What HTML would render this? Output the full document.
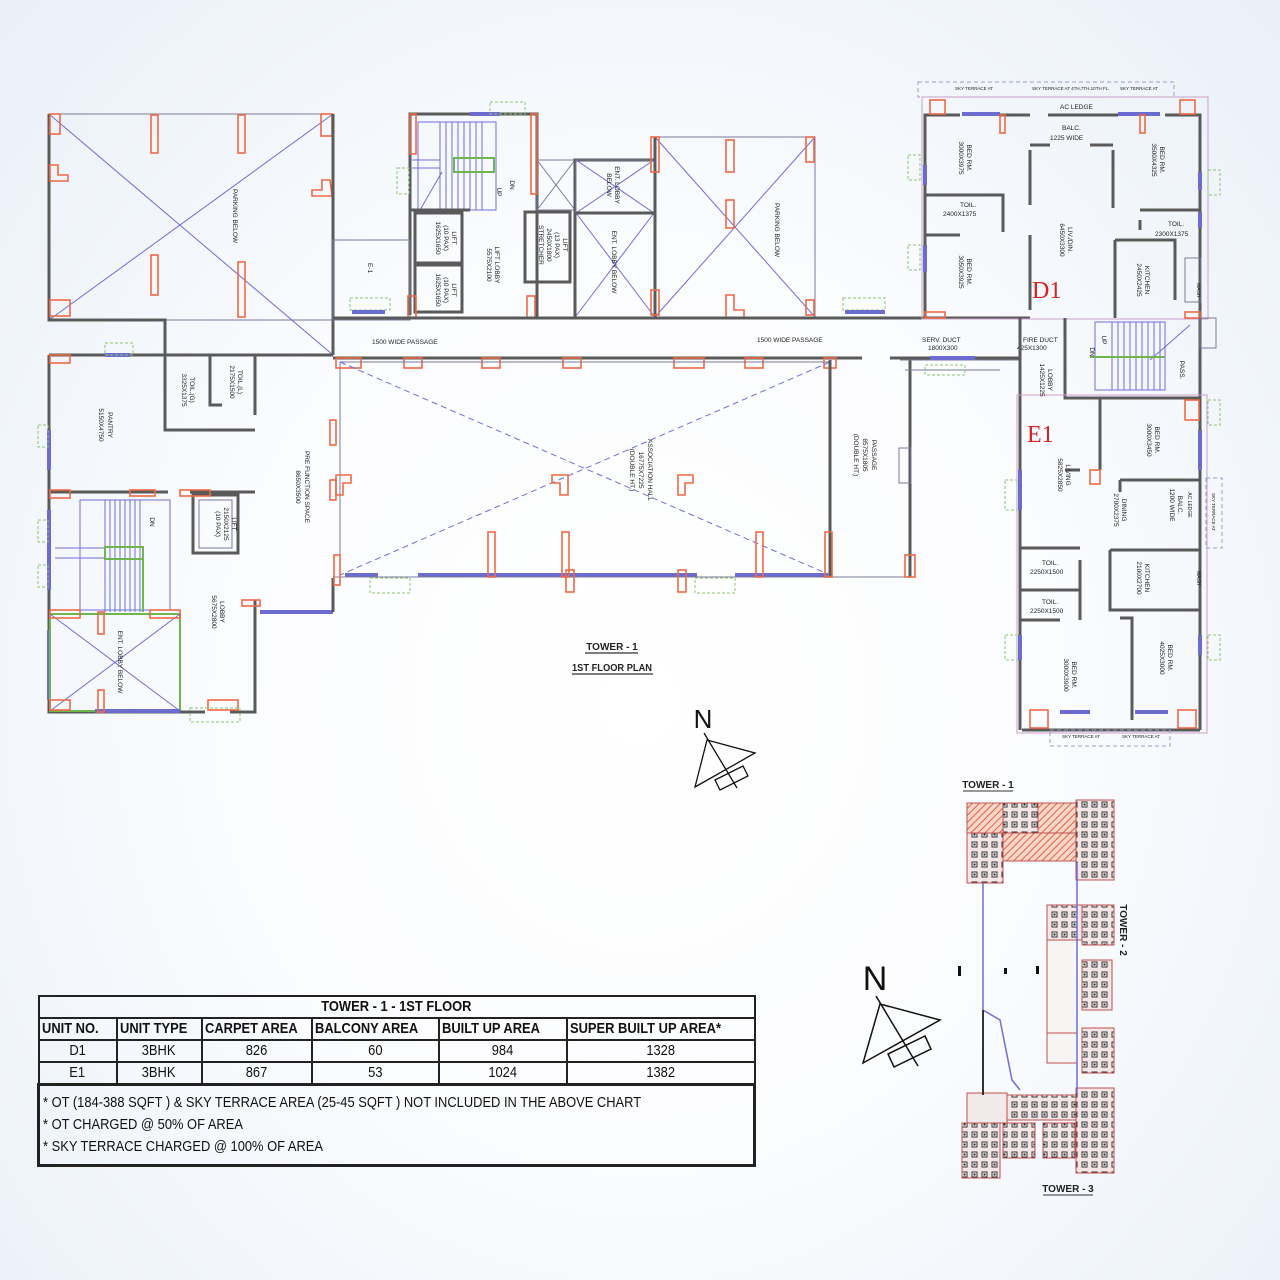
<!DOCTYPE html>
<html><head><meta charset="utf-8"><style>
html,body{margin:0;padding:0;}
body{width:1280px;height:1280px;overflow:hidden;background:radial-gradient(ellipse at 50% 55%,#ffffff 0%,#fbfcfe 45%,#e9f0f8 100%);font-family:"Liberation Sans",sans-serif;}
svg{position:absolute;left:0;top:0;}
.w{stroke:#5a5a5a;stroke-width:3;fill:none}
.t{stroke:#7a7a9a;stroke-width:1;fill:none}
.b{stroke:#6e6ed8;stroke-width:1;fill:none}
.bd{stroke:#6e6ed8;stroke-width:1;fill:none;stroke-dasharray:6 4}
.c{stroke:#ee6a45;stroke-width:1.6;fill:none}
.win{stroke:#6b6bd0;stroke-width:4;fill:none}
.g{stroke:#8cc56e;stroke-width:1;fill:none;stroke-dasharray:3 2}
.p{stroke:#c9a0c9;stroke-width:1;fill:none}
.lbl{font-family:"Liberation Sans",sans-serif;font-size:6.5px;fill:#222}
table{position:absolute;left:37px;top:995px;border-collapse:collapse;table-layout:fixed;width:716px;font-family:"Liberation Sans",sans-serif;font-size:15px;color:#111}
td{border:2px solid #222;padding:0;text-align:center;height:20px;line-height:20px;white-space:nowrap;overflow:hidden}
.hd td{font-weight:bold}
.s{display:inline-block;transform:scaleX(0.86);transform-origin:center}
.sl{display:inline-block;transform:scaleX(0.86);transform-origin:left;margin-left:2px}
</style></head><body>
<svg width="1280" height="1280" viewBox="0 0 1280 1280">
<rect x="49" y="114" width="284" height="206" class="t"/>
<line x1="49" y1="114" x2="333" y2="355" class="b"/>
<line x1="333" y1="114" x2="49" y2="320" class="b"/>
<path d="M49 114 V320 H165 V355" class="w" stroke-width="2"/>
<g class="c">
<rect x="50" y="114" width="10" height="20"/><rect x="151" y="115" width="7" height="38"/><rect x="238" y="115" width="7" height="38"/><rect x="321" y="114" width="11" height="22"/>
<path d="M50 165 h8 v10 h10 v6 h-18z"/><path d="M330 180 h-8 v10 h-10 v6 h20z"/>
<rect x="151" y="255" width="7" height="40"/><rect x="238" y="262" width="7" height="55"/><rect x="50" y="300" width="20" height="16"/>
</g>
<text class="lbl" transform="translate(233,216) rotate(90)" text-anchor="middle">PARKING BELOW</text>
<line x1="333" y1="114" x2="333" y2="355" class="w" stroke-width="2"/>
<path d="M49 355 H333" class="w"/>
<path d="M49 355 V712 H180" class="w"/>
<line x1="49" y1="430" x2="49" y2="470" class="win"/>
<line x1="49" y1="510" x2="49" y2="590" class="win"/>
<line x1="49" y1="630" x2="49" y2="700" class="win"/>
<line x1="105" y1="355" x2="130" y2="355" class="win"/>
<path d="M165 355 V430 H255 M210 355 V405 H222 M255 355 V415" class="w" stroke-width="2.5"/>
<text class="lbl" transform="translate(108,425) rotate(90)" text-anchor="middle">PANTRY</text>
<text class="lbl" transform="translate(99,425) rotate(90)" text-anchor="middle">5150X4750</text>
<text class="lbl" transform="translate(190,390) rotate(90)" text-anchor="middle">TOIL.(G)</text>
<text class="lbl" transform="translate(182,390) rotate(90)" text-anchor="middle">3325X1375</text>
<text class="lbl" transform="translate(238,382) rotate(90)" text-anchor="middle">TOIL.(L)</text>
<text class="lbl" transform="translate(230,382) rotate(90)" text-anchor="middle">2175X1500</text>
<path d="M49 492 H168 M190 492 H255" class="w" stroke-width="2.5"/>
<g class="b"><rect x="80" y="500" width="90" height="110"/>
<line x1="105" y1="500" x2="105" y2="612"/><line x1="110" y1="500" x2="110" y2="612"/><line x1="115" y1="500" x2="115" y2="612"/><line x1="120" y1="500" x2="120" y2="612"/><line x1="125" y1="500" x2="125" y2="612"/><line x1="130" y1="500" x2="130" y2="612"/><line x1="135" y1="500" x2="135" y2="612"/><line x1="140" y1="500" x2="140" y2="612"/>
<line x1="55" y1="548" x2="105" y2="548"/><line x1="55" y1="558" x2="105" y2="558"/></g>
<rect x="105" y="547" width="38" height="12" fill="none" stroke="#6fb64e" stroke-width="2"/>
<line x1="143" y1="547" x2="143" y2="612" stroke="#6fb64e" stroke-width="2"/>
<text class="lbl" transform="translate(150,522) rotate(90)" text-anchor="middle">DN</text>
<rect x="193" y="495" width="45" height="58" class="w" stroke-width="2.5"/>
<rect x="199" y="500" width="33" height="48" class="t"/>
<text class="lbl" transform="translate(232,524) rotate(90)" text-anchor="middle">LIFT</text>
<text class="lbl" transform="translate(224,524) rotate(90)" text-anchor="middle">2150X2125</text>
<text class="lbl" transform="translate(216,524) rotate(90)" text-anchor="middle">(10 PAX)</text>
<rect x="50" y="614" width="130" height="97" fill="none" stroke="#6fb64e" stroke-width="2"/>
<line x1="50" y1="614" x2="180" y2="711" class="b"/><line x1="180" y1="614" x2="50" y2="711" class="b"/>
<text class="lbl" transform="translate(118,662) rotate(90)" text-anchor="middle">ENT. LOBBY BELOW</text>
<line x1="95" y1="711" x2="180" y2="711" class="win"/>
<path d="M255 600 V712 H230 M205 712 H180" class="w" stroke-width="2.5"/>
<text class="lbl" transform="translate(220,612) rotate(90)" text-anchor="middle">LOBBY</text>
<text class="lbl" transform="translate(212,612) rotate(90)" text-anchor="middle">5675X2800</text>
<line x1="260" y1="612" x2="333" y2="612" class="win"/>
<line x1="333" y1="578" x2="333" y2="612" class="w" stroke-width="2"/>
<text class="lbl" transform="translate(305,487) rotate(90)" text-anchor="middle">PRE FUNCTION SPACE</text>
<text class="lbl" transform="translate(296,487) rotate(90)" text-anchor="middle">8650X3500</text>
<g class="c"><rect x="50" y="355" width="20" height="8"/><rect x="50" y="490" width="20" height="8"/><rect x="130" y="490" width="25" height="6"/><rect x="180" y="490" width="30" height="6"/><rect x="50" y="610" width="30" height="8"/><rect x="150" y="610" width="30" height="8"/><rect x="98" y="690" width="6" height="22"/><rect x="50" y="700" width="20" height="10"/><rect x="208" y="700" width="30" height="10"/><rect x="242" y="600" width="18" height="6"/><rect x="98" y="612" width="6" height="22"/><rect x="330" y="420" width="6" height="25"/><rect x="330" y="480" width="6" height="20"/></g>
<rect x="190" y="708" width="50" height="14" class="g"/>
<rect x="38" y="520" width="10" height="22" class="g"/><rect x="38" y="565" width="10" height="22" class="g"/><rect x="38" y="425" width="10" height="22" class="g"/>
<rect x="105" y="343" width="28" height="12" class="g"/>
<path d="M410 315 V114 H537 V160 M537 160 V318" class="w" stroke-width="2.5"/>
<line x1="470" y1="114" x2="500" y2="114" class="win"/>
<rect x="490" y="102" width="35" height="12" class="g"/>
<rect x="397" y="168" width="12" height="26" class="g"/>
<g class="b"><rect x="418" y="122" width="78" height="88"/>
<line x1="440" y1="122" x2="440" y2="210"/><line x1="446" y1="122" x2="446" y2="210"/><line x1="452" y1="122" x2="452" y2="210"/><line x1="458" y1="122" x2="458" y2="210"/><line x1="464" y1="122" x2="464" y2="210"/><line x1="470" y1="122" x2="470" y2="210"/><line x1="476" y1="122" x2="476" y2="210"/><line x1="482" y1="122" x2="482" y2="210"/>
<line x1="412" y1="160" x2="440" y2="160"/><line x1="412" y1="168" x2="440" y2="168"/><line x1="420" y1="210" x2="442" y2="172"/></g>
<rect x="454" y="158" width="40" height="14" fill="none" stroke="#6fb64e" stroke-width="2"/>
<path d="M410 210 H470" class="w" stroke-width="2.5"/>
<rect x="415" y="213" width="47" height="50" class="w" stroke-width="2"/>
<rect x="415" y="265" width="47" height="47" class="w" stroke-width="2"/>
<text class="lbl" transform="translate(452,238) rotate(90)" text-anchor="middle">LIFT</text>
<text class="lbl" transform="translate(444,238) rotate(90)" text-anchor="middle">(10 PAX)</text>
<text class="lbl" transform="translate(436,238) rotate(90)" text-anchor="middle">1625X1650</text>
<text class="lbl" transform="translate(452,290) rotate(90)" text-anchor="middle">LIFT</text>
<text class="lbl" transform="translate(444,290) rotate(90)" text-anchor="middle">(10 PAX)</text>
<text class="lbl" transform="translate(436,290) rotate(90)" text-anchor="middle">1625X1650</text>
<text class="lbl" transform="translate(495,265) rotate(90)" text-anchor="middle">LIFT LOBBY</text>
<text class="lbl" transform="translate(487,265) rotate(90)" text-anchor="middle">5575X2100</text>
<text class="lbl" transform="translate(510,185) rotate(90)" text-anchor="middle">DN</text>
<text class="lbl" transform="translate(497,192) rotate(90)" text-anchor="middle">UP</text>
<rect x="525" y="212" width="45" height="70" class="w" stroke-width="2"/>
<text class="lbl" transform="translate(563,245) rotate(90)" text-anchor="middle">LIFT</text>
<text class="lbl" transform="translate(555,245) rotate(90)" text-anchor="middle">(13 PAX)</text>
<text class="lbl" transform="translate(547,245) rotate(90)" text-anchor="middle">2450X1800</text>
<text class="lbl" transform="translate(539,245) rotate(90)" text-anchor="middle">STRETCHER</text>
<rect x="537" y="160" width="38" height="50" class="t"/>
<line x1="537" y1="160" x2="575" y2="210" class="t"/><line x1="575" y1="160" x2="537" y2="210" class="t"/>
<path d="M575 318 V160 H655" class="w" stroke-width="2"/>
<rect x="576" y="160" width="78" height="53" class="t"/>
<line x1="576" y1="160" x2="654" y2="213" class="b"/><line x1="654" y1="160" x2="576" y2="213" class="b"/>
<line x1="576" y1="213" x2="654" y2="316" class="b"/><line x1="654" y1="213" x2="576" y2="316" class="b"/>
<line x1="576" y1="213" x2="654" y2="213" class="w" stroke-width="2"/>
<text class="lbl" transform="translate(615,185) rotate(90)" text-anchor="middle">ENT. LOBBY</text>
<text class="lbl" transform="translate(607,185) rotate(90)" text-anchor="middle">BELOW</text>
<text class="lbl" transform="translate(612,262) rotate(90)" text-anchor="middle">ENT. LOBBY BELOW</text>
<rect x="655" y="137" width="160" height="180" class="t"/>
<line x1="655" y1="137" x2="815" y2="317" class="b"/><line x1="815" y1="137" x2="655" y2="317" class="b"/>
<line x1="655" y1="137" x2="655" y2="318" class="w" stroke-width="2"/>
<text class="lbl" transform="translate(775,230) rotate(90)" text-anchor="middle">PARKING BELOW</text>
<g class="c"><rect x="651" y="137" width="8" height="35"/><rect x="726" y="140" width="8" height="32"/><rect x="806" y="137" width="8" height="25"/><rect x="726" y="200" width="8" height="28"/><rect x="651" y="290" width="8" height="25"/><path d="M726 295 h8 v15 h10 v8 h-18z"/><rect x="806" y="300" width="8" height="15"/>
<rect x="410" y="114" width="6" height="40"/><rect x="531" y="114" width="6" height="80"/><rect x="408" y="296" width="8" height="22"/><rect x="527" y="296" width="8" height="22"/></g>
<rect x="333" y="240" width="77" height="80" class="t"/>
<text class="lbl" transform="translate(368,268) rotate(90)" text-anchor="middle">E-1</text>
<rect x="350" y="298" width="40" height="12" class="g"/><line x1="352" y1="312" x2="385" y2="312" class="win"/>
<rect x="843" y="298" width="42" height="12" class="g"/><line x1="845" y1="312" x2="885" y2="312" class="win"/>
<line x1="333" y1="318" x2="1030" y2="318" class="w"/>
<line x1="333" y1="358" x2="862" y2="358" class="w"/>
<line x1="890" y1="358" x2="1020" y2="358" class="w"/>
<text class="lbl" x="372" y="344">1500 WIDE PASSAGE</text>
<text class="lbl" x="757" y="342">1500 WIDE PASSAGE</text>
<g class="c"><rect x="336" y="358" width="25" height="10"/><rect x="404" y="358" width="18" height="10"/><rect x="482" y="358" width="18" height="10"/><rect x="563" y="358" width="18" height="10"/><rect x="674" y="358" width="30" height="10"/><rect x="745" y="358" width="18" height="10"/><rect x="824" y="358" width="12" height="10"/></g>
<rect x="340" y="362" width="490" height="215" class="t"/>
<line x1="340" y1="362" x2="830" y2="575" class="bd"/><line x1="830" y1="362" x2="340" y2="575" class="bd"/>
<line x1="830" y1="360" x2="830" y2="577" class="w" stroke-width="2.5"/>
<line x1="910" y1="360" x2="910" y2="577" class="w" stroke-width="2.5"/>
<line x1="345" y1="575" x2="378" y2="575" class="win"/><line x1="418" y1="575" x2="697" y2="575" class="win"/><line x1="735" y1="575" x2="828" y2="575" class="win"/>
<line x1="333" y1="577" x2="910" y2="577" class="t"/>
<g class="c"><path d="M336 475 h15 v8 h-8 v12 h-7z"/><path d="M560 475 h-8 v8 h8 v12 h8 v-20z"/><path d="M678 475 h15 v8 h-8 v12 h-7z"/>
<rect x="488" y="532" width="7" height="45"/><rect x="562" y="532" width="7" height="45"/><rect x="756" y="532" width="7" height="45"/><rect x="825" y="532" width="7" height="45"/><rect x="566" y="570" width="8" height="22"/><rect x="678" y="570" width="8" height="22"/><rect x="905" y="555" width="10" height="22"/><rect x="334" y="555" width="6" height="30"/></g>
<rect x="370" y="578" width="40" height="15" class="g"/><rect x="695" y="578" width="40" height="15" class="g"/>
<text class="lbl" transform="translate(648,470) rotate(90)" text-anchor="middle">ASSOCIATION HALL</text>
<text class="lbl" transform="translate(639,470) rotate(90)" text-anchor="middle">16775X7225</text>
<text class="lbl" transform="translate(630,470) rotate(90)" text-anchor="middle">(DOUBLE HT.)</text>
<text class="lbl" transform="translate(872,455) rotate(90)" text-anchor="middle">PASSAGE</text>
<text class="lbl" transform="translate(863,455) rotate(90)" text-anchor="middle">8575X1805</text>
<text class="lbl" transform="translate(854,455) rotate(90)" text-anchor="middle">(DOUBLE HT.)</text>
<rect x="899" y="448" width="12" height="35" class="t"/>
<rect x="918" y="82" width="256" height="15" fill="none" stroke="#9a9ad0" stroke-dasharray="4 3"/>
<text class="lbl" x="955" y="90" style="font-size:4.5px">SKY TERRACE AT</text><text class="lbl" x="1032" y="90" style="font-size:4.5px">SKY TERRACE AT 4TH,7TH,10TH FL.</text><text class="lbl" x="1120" y="90" style="font-size:4.5px">SKY TERRACE AT</text>
<rect x="922" y="97" width="286" height="222" class="p"/>
<path d="M925 318 V115 H960 M1000 115 H1030 M1048 115 H1118 M1165 115 H1200 V318" class="w" stroke-width="2.5"/>
<line x1="962" y1="114" x2="1000" y2="114" class="win"/><line x1="1118" y1="114" x2="1160" y2="114" class="win"/>
<line x1="925" y1="165" x2="925" y2="185" class="win"/><line x1="925" y1="245" x2="925" y2="272" class="win"/><line x1="1200" y1="172" x2="1200" y2="190" class="win"/><line x1="1200" y1="212" x2="1200" y2="228" class="win"/>
<text class="lbl" x="1060" y="109">AC LEDGE</text>
<path d="M1030 150 V205 M1030 235 V310 M1113 150 V208 M1030 145 H1050 M1090 145 H1113" class="w" stroke-width="2.5"/>
<text class="lbl" x="1062" y="130">BALC.</text><text class="lbl" x="1050" y="140">1225 WIDE</text>
<path d="M925 195 H1003 V232 M925 235 H960" class="w" stroke-width="2"/>
<text class="lbl" x="960" y="207">TOIL.</text><text class="lbl" x="943" y="216">2400X1375</text>
<path d="M1140 210 H1200 M1140 220 V230 M1115 240 H1175 V300 M1115 240 V318" class="w" stroke-width="2"/>
<text class="lbl" x="1168" y="226">TOIL.</text><text class="lbl" x="1155" y="236">2300X1375</text>
<text class="lbl" transform="translate(967,158) rotate(90)" text-anchor="middle">BED RM.</text>
<text class="lbl" transform="translate(959,158) rotate(90)" text-anchor="middle">3000X3975</text>
<text class="lbl" transform="translate(967,272) rotate(90)" text-anchor="middle">BED RM.</text>
<text class="lbl" transform="translate(959,272) rotate(90)" text-anchor="middle">3050X3925</text>
<text class="lbl" transform="translate(1160,160) rotate(90)" text-anchor="middle">BED RM.</text>
<text class="lbl" transform="translate(1152,160) rotate(90)" text-anchor="middle">3500X4325</text>
<text class="lbl" transform="translate(1068,240) rotate(90)" text-anchor="middle">LIV./DIN.</text>
<text class="lbl" transform="translate(1060,240) rotate(90)" text-anchor="middle">6450X3300</text>
<text class="lbl" transform="translate(1145,280) rotate(90)" text-anchor="middle">KITCHEN</text>
<text class="lbl" transform="translate(1137,280) rotate(90)" text-anchor="middle">2450X2425</text>
<text class="lbl" transform="translate(1197,290) rotate(90)" text-anchor="middle" style="font-size:5px">WASH</text>
<text x="1032" y="298" font-family="Liberation Serif,serif" font-size="24" fill="#d42222">D1</text>
<rect x="1185" y="258" width="16" height="44" class="t"/>
<rect x="908" y="155" width="12" height="25" class="g"/><rect x="908" y="245" width="12" height="25" class="g"/><rect x="1208" y="170" width="12" height="25" class="g"/>
<g class="c"><rect x="930" y="100" width="15" height="14"/><rect x="1180" y="100" width="15" height="14"/><rect x="1000" y="115" width="5" height="18"/><rect x="1140" y="115" width="5" height="18"/><rect x="925" y="312" width="20" height="6"/><rect x="1185" y="312" width="15" height="6"/></g>
<text class="lbl" x="922" y="342">SERV. DUCT</text><text class="lbl" x="928" y="350">1800X300</text>
<text class="lbl" x="1023" y="342">FIRE DUCT</text><text class="lbl" x="1017" y="350">425X1300</text>
<path d="M900 360 H1020 M905 370 H1000" class="t"/>
<line x1="930" y1="358" x2="975" y2="358" class="win"/>
<rect x="925" y="365" width="40" height="10" class="g"/>
<path d="M1020 318 V730 M1065 318 V398 H1200 M1200 318 V730" class="w" stroke-width="2.5"/>
<g class="b"><rect x="1095" y="322" width="70" height="68"/>
<line x1="1112" y1="322" x2="1112" y2="390"/><line x1="1118" y1="322" x2="1118" y2="390"/><line x1="1124" y1="322" x2="1124" y2="390"/><line x1="1130" y1="322" x2="1130" y2="390"/><line x1="1136" y1="322" x2="1136" y2="390"/><line x1="1142" y1="322" x2="1142" y2="390"/><line x1="1148" y1="322" x2="1148" y2="390"/><line x1="1154" y1="322" x2="1154" y2="390"/><line x1="1160" y1="322" x2="1160" y2="390"/>
<line x1="1150" y1="360" x2="1190" y2="325"/></g>
<line x1="1090" y1="357" x2="1165" y2="357" stroke="#6fb64e" stroke-width="2"/>
<text class="lbl" transform="translate(1102,340) rotate(90)" text-anchor="middle">UP</text>
<text class="lbl" transform="translate(1090,352) rotate(90)" text-anchor="middle">DN</text>
<text class="lbl" transform="translate(1180,370) rotate(90)" text-anchor="middle">PASS.</text>
<rect x="1200" y="318" width="16" height="30" class="t"/>
<rect x="1017" y="395" width="190" height="338" class="p"/>
<path d="M1100 398 V470 M1120 480 H1200 M1120 480 V492 M1065 470 H1080" class="w" stroke-width="2.5"/>
<path d="M1020 548 H1080 M1020 590 H1080 M1080 560 V620 M1020 620 H1060 M1110 550 H1200 M1110 550 V610 H1200 M1120 618 H1132 V720" class="w" stroke-width="2.5"/>
<line x1="1022" y1="730" x2="1200" y2="730" class="w" stroke-width="2.5"/>
<line x1="1060" y1="712" x2="1090" y2="712" class="win"/><line x1="1135" y1="712" x2="1168" y2="712" class="win"/>
<line x1="1020" y1="470" x2="1020" y2="510" class="win"/><line x1="1020" y1="635" x2="1020" y2="660" class="win"/><line x1="1200" y1="430" x2="1200" y2="470" class="win"/><line x1="1200" y1="635" x2="1200" y2="655" class="win"/>
<text x="1027" y="442" font-family="Liberation Serif,serif" font-size="24" fill="#d42222">E1</text>
<text class="lbl" transform="translate(1048,380) rotate(90)" text-anchor="middle">LOBBY</text>
<text class="lbl" transform="translate(1040,380) rotate(90)" text-anchor="middle">1425X1225</text>
<text class="lbl" transform="translate(1066,475) rotate(90)" text-anchor="middle">LIVING</text>
<text class="lbl" transform="translate(1058,475) rotate(90)" text-anchor="middle">5825X2850</text>
<text class="lbl" transform="translate(1155,440) rotate(90)" text-anchor="middle">BED RM.</text>
<text class="lbl" transform="translate(1147,440) rotate(90)" text-anchor="middle">3000X3450</text>
<text class="lbl" transform="translate(1122,510) rotate(90)" text-anchor="middle">DINING</text>
<text class="lbl" transform="translate(1114,510) rotate(90)" text-anchor="middle">2700X2375</text>
<text class="lbl" transform="translate(1178,505) rotate(90)" text-anchor="middle">BALC.</text>
<text class="lbl" transform="translate(1170,505) rotate(90)" text-anchor="middle">1200 WIDE</text>
<text class="lbl" transform="translate(1188,505) rotate(90)" text-anchor="middle" style="font-size:5px">AC LEDGE</text>
<rect x="1206" y="478" width="16" height="70" fill="none" stroke="#9a9ad0" stroke-dasharray="4 3"/>
<text class="lbl" transform="translate(1212,512) rotate(90)" text-anchor="middle" style="font-size:4.5px">SKY TERRACE AT</text>
<text class="lbl" transform="translate(1145,578) rotate(90)" text-anchor="middle">KITCHEN</text>
<text class="lbl" transform="translate(1137,578) rotate(90)" text-anchor="middle">2100X2700</text>
<text class="lbl" transform="translate(1197,578) rotate(90)" text-anchor="middle" style="font-size:5px">WASH</text>
<text class="lbl" x="1042" y="565">TOIL.</text><text class="lbl" x="1030" y="574">2250X1500</text>
<text class="lbl" x="1042" y="604">TOIL.</text><text class="lbl" x="1030" y="613">2250X1500</text>
<text class="lbl" transform="translate(1072,675) rotate(90)" text-anchor="middle">BED RM.</text>
<text class="lbl" transform="translate(1064,675) rotate(90)" text-anchor="middle">3000X3900</text>
<text class="lbl" transform="translate(1168,658) rotate(90)" text-anchor="middle">BED RM.</text>
<text class="lbl" transform="translate(1160,658) rotate(90)" text-anchor="middle">4025X3000</text>
<rect x="1050" y="730" width="120" height="16" fill="none" stroke="#9a9ad0" stroke-dasharray="4 3"/>
<text class="lbl" x="1062" y="738" style="font-size:4.5px">SKY TERRACE AT</text><text class="lbl" x="1122" y="738" style="font-size:4.5px">SKY TERRACE AT</text>
<rect x="1005" y="480" width="12" height="30" class="g"/><rect x="1005" y="635" width="12" height="25" class="g"/><rect x="1208" y="635" width="12" height="25" class="g"/><rect x="1208" y="400" width="12" height="25" class="g"/>
<g class="c"><rect x="1030" y="710" width="18" height="18"/><rect x="1178" y="710" width="18" height="18"/><rect x="1185" y="400" width="14" height="20"/><rect x="1090" y="470" width="10" height="14"/></g>
<text x="612" y="650" text-anchor="middle" font-family="Liberation Sans,sans-serif" font-size="10" font-weight="bold" fill="#222">TOWER - 1</text>
<line x1="585" y1="653" x2="638" y2="653" stroke="#333" stroke-width="1.2"/>
<text x="612" y="671" text-anchor="middle" font-family="Liberation Sans,sans-serif" font-size="10" font-weight="bold" fill="#222" textLength="80" lengthAdjust="spacingAndGlyphs">1ST FLOOR PLAN</text>
<line x1="572" y1="674" x2="653" y2="674" stroke="#333" stroke-width="1.2"/>
<text x="703" y="728" text-anchor="middle" font-family="Liberation Sans,sans-serif" font-size="26" fill="#111">N</text>
<g stroke="#111" stroke-width="1.3" fill="none"><path d="M707 740 L755 753 L695 787 Z"/><line x1="704" y1="733" x2="737" y2="788"/><path d="M715 780 L743 766 L748 776 L720 790 Z"/></g>
<text x="875" y="990" text-anchor="middle" font-family="Liberation Sans,sans-serif" font-size="34" fill="#111">N</text>
<g stroke="#111" stroke-width="1.5" fill="none"><path d="M880 1004 L940 1020 L863 1063 Z"/><line x1="876" y1="996" x2="918" y2="1066"/><path d="M888 1054 L925 1036 L931 1049 L894 1067 Z"/></g>
<text x="988" y="788" text-anchor="middle" font-family="Liberation Sans,sans-serif" font-size="10" font-weight="bold" fill="#222">TOWER - 1</text>
<line x1="963" y1="791" x2="1013" y2="791" stroke="#333"/>
<text x="1068" y="1192" text-anchor="middle" font-family="Liberation Sans,sans-serif" font-size="10" font-weight="bold" fill="#222">TOWER - 3</text>
<line x1="1043" y1="1195" x2="1093" y2="1195" stroke="#333"/>
<text transform="translate(1120,930) rotate(90)" text-anchor="middle" font-family="Liberation Sans,sans-serif" font-size="10" font-weight="bold" fill="#222">TOWER - 2</text>
<defs><pattern id="h" width="5" height="5" patternUnits="userSpaceOnUse" patternTransform="rotate(45)"><rect width="5" height="5" fill="#f6d7cc"/><line x1="0" y1="0" x2="0" y2="5" stroke="#e8603c" stroke-width="2"/></pattern>
<pattern id="u" width="10" height="10" patternUnits="userSpaceOnUse"><rect width="10" height="10" fill="#f4e6e6"/><rect x="2" y="2" width="5" height="5" fill="#fff" stroke="#333" stroke-width="1"/><rect x="3.5" y="3.5" width="2" height="2" fill="#222"/></pattern></defs>
<g stroke="#c05050" stroke-width="1">
<rect x="967" y="803" width="36" height="30" fill="url(#h)"/>
<rect x="1003" y="803" width="35" height="30" fill="url(#u)"/>
<rect x="1038" y="803" width="38" height="30" fill="url(#h)"/>
<rect x="1003" y="833" width="73" height="28" fill="url(#h)"/>
<rect x="967" y="833" width="36" height="50" fill="url(#u)"/>
<rect x="1076" y="800" width="38" height="80" fill="url(#u)"/>
<rect x="1047" y="905" width="35" height="35" fill="url(#u)"/>
<rect x="1047" y="940" width="30" height="110" fill="#f7f4f4"/>
<rect x="1082" y="905" width="32" height="40" fill="url(#u)"/>
<rect x="1082" y="960" width="30" height="50" fill="url(#u)"/>
<rect x="1082" y="1028" width="32" height="45" fill="url(#u)"/>
<rect x="1047" y="1033" width="30" height="30" fill="#f7f4f4"/>
<rect x="967" y="1093" width="40" height="30" fill="#f2eaea"/>
<rect x="1007" y="1095" width="70" height="25" fill="url(#u)"/>
<rect x="1076" y="1088" width="38" height="85" fill="url(#u)"/>
<rect x="962" y="1123" width="38" height="55" fill="url(#u)"/>
<rect x="1003" y="1123" width="32" height="35" fill="url(#u)"/>
<rect x="1043" y="1123" width="32" height="35" fill="url(#u)"/>
</g>
<path d="M983 883 V1095 M1077 863 V1093 M983 1010 L1000 1020 L1012 1080 L1020 1090" stroke="#6e6ed8" stroke-width="1.5" fill="none"/>
<line x1="983" y1="1010" x2="983" y2="1095" stroke="#333" stroke-width="2"/>
<rect x="958" y="966" width="3" height="10" fill="#111"/><rect x="1004" y="968" width="3" height="6" fill="#111"/><rect x="1036" y="966" width="3" height="8" fill="#111"/>
</svg>
<table>
<colgroup><col style="width:78px"><col style="width:85px"><col style="width:110px"><col style="width:127px"><col style="width:128px"><col style="width:188px"></colgroup>
<tr class="hd"><td colspan="6"><span class="s">TOWER - 1 - 1ST FLOOR</span></td></tr>
<tr class="hd"><td style="text-align:left"><span class="sl">UNIT NO.</span></td><td style="text-align:left"><span class="sl">UNIT TYPE</span></td><td style="text-align:left"><span class="sl">CARPET AREA</span></td><td style="text-align:left"><span class="sl">BALCONY AREA</span></td><td style="text-align:left"><span class="sl">BUILT UP AREA</span></td><td style="text-align:left"><span class="sl">SUPER BUILT UP AREA*</span></td></tr>
<tr><td><span class="s">D1</span></td><td><span class="s">3BHK</span></td><td><span class="s">826</span></td><td><span class="s">60</span></td><td><span class="s">984</span></td><td><span class="s">1328</span></td></tr>
<tr><td><span class="s">E1</span></td><td><span class="s">3BHK</span></td><td><span class="s">867</span></td><td><span class="s">53</span></td><td><span class="s">1024</span></td><td><span class="s">1382</span></td></tr>
<tr><td colspan="6" style="text-align:left;line-height:22px;height:78px;border-width:3px;padding-left:1px"><span class="sl">* OT (184-388 SQFT ) &amp; SKY TERRACE AREA (25-45 SQFT ) NOT INCLUDED IN THE ABOVE CHART</span><br><span class="sl">* OT CHARGED @ 50% OF AREA</span><br><span class="sl">* SKY TERRACE CHARGED @ 100% OF AREA</span></td></tr>
</table>
</body></html>
